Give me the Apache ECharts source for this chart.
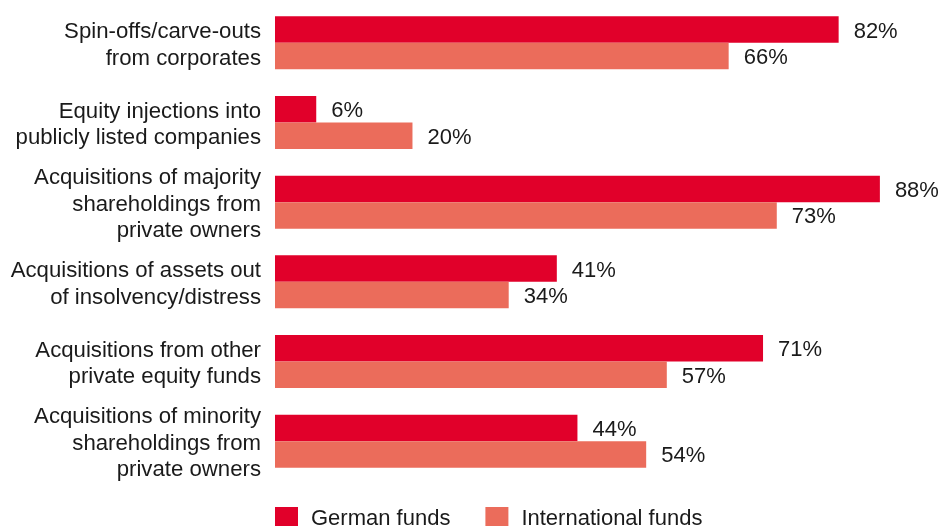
<!DOCTYPE html>
<html>
<head>
<meta charset="utf-8">
<script src="https://cdn.jsdelivr.net/npm/echarts@6/dist/echarts.min.js"></script>
<style>
  html, body { margin: 0; padding: 0; background: #fff; }
  #chart { width: 939px; height: 526px; }
</style>
</head>
<body>
<div id="chart"></div>
<script>
// Deal sources by fund origin (share of respondents, %)
const categories = [
  'Spin-offs/carve-outs\nfrom corporates',
  'Equity injections into\npublicly listed companies',
  'Acquisitions of majority\nshareholdings from\nprivate owners',
  'Acquisitions of assets out\nof insolvency/distress',
  'Acquisitions from other\nprivate equity funds',
  'Acquisitions of minority\nshareholdings from\nprivate owners'
];
const germanFunds = [82, 6, 88, 41, 71, 44];
const internationalFunds = [66, 20, 73, 34, 57, 54];

const FONT = '"Liberation Sans", Arial, Helvetica, sans-serif';
const TEXT = '#1a1a1a';

const chart = echarts.init(document.getElementById('chart'), null, { renderer: 'canvas' });

const valueLabel = {
  show: true,
  position: 'right',
  distance: 15,
  offset: [0, 2],
  formatter: '{c}%',
  fontFamily: FONT,
  fontSize: 22,
  color: TEXT
};

chart.setOption({
  animation: false,
  backgroundColor: '#ffffff',
  grid: { left: 275, right: 0, top: 3, bottom: 45, containLabel: false },
  xAxis: {
    type: 'value',
    min: 0,
    max: 96.6,
    show: false
  },
  yAxis: {
    type: 'category',
    data: categories,
    inverse: true,
    axisLine: { show: false },
    axisTick: { show: false },
    axisLabel: {
      margin: 14,
      fontFamily: FONT,
      fontSize: 22.2,
      color: TEXT,
      align: 'right',
      // each line as a rich token so the block can sit a little lower
      formatter: (v) => v.split('\n').map((s) => '{t|' + s + '}').join('\n'),
      rich: {
        t: {
          fontFamily: FONT,
          fontSize: 22.2,
          color: TEXT,
          lineHeight: 26.5,
          padding: [5, 0, 0, 0]
        }
      }
    }
  },
  legend: {
    left: 275,
    top: 507,
    padding: 0,
    itemWidth: 23,
    itemHeight: 23,
    itemGap: 35,
    icon: 'rect',
    textStyle: { fontFamily: FONT, fontSize: 22, color: TEXT, padding: [0, 0, 0, 8] },
    data: ['German funds', 'International funds']
  },
  series: [
    {
      name: 'German funds',
      type: 'bar',
      data: germanFunds,
      barGap: '0%',
      barCategoryGap: '33.5%',
      itemStyle: { color: '#E1002A' },
      label: valueLabel
    },
    {
      name: 'International funds',
      type: 'bar',
      data: internationalFunds,
      barGap: '0%',
      barCategoryGap: '33.5%',
      itemStyle: { color: '#EB6C5B' },
      label: valueLabel
    }
  ]
});
</script>
</body>
</html>
